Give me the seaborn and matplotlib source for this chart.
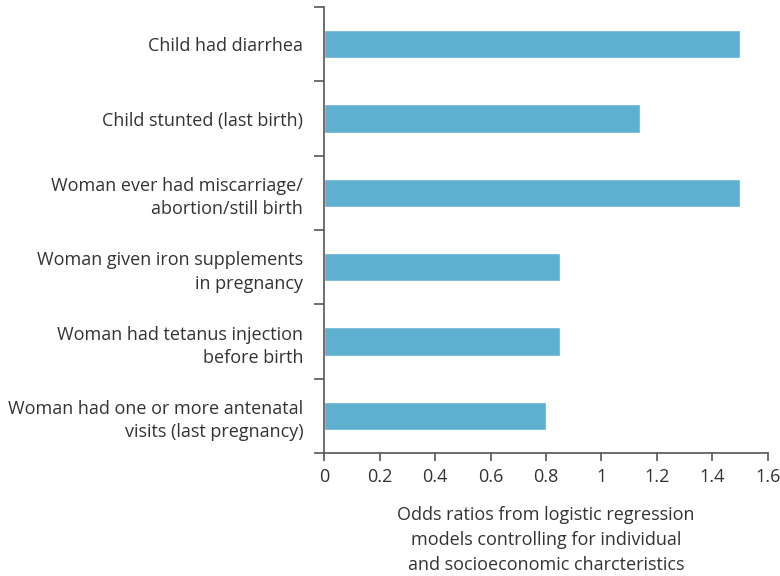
import numpy as np
import pandas as pd
import matplotlib
matplotlib.use("Agg")
import matplotlib.pyplot as plt
import seaborn as sns

# data
labels = [
    "Child had diarrhea",
    "Child stunted (last birth)",
    "Woman ever had miscarriage/\nabortion/still birth",
    "Woman given iron supplements\nin pregnancy",
    "Woman had tetanus injection\nbefore birth",
    "Woman had one or more antenatal\nvisits (last pregnancy)",
]
odds = [1.50, 1.14, 1.50, 0.85, 0.85, 0.80]
xticks = [0, 0.2, 0.4, 0.6, 0.8, 1, 1.2, 1.4, 1.6]
xticklabels = ["0", "0.2", "0.4", "0.6", "0.8", "1", "1.2", "1.4", "1.6"]

df = pd.DataFrame({"label": labels, "odds": odds})

sns.set_style("white")
plt.rcParams["font.family"] = ["Open Sans", "DejaVu Sans"]
text_col = "#333333"
fs = 13

fig = plt.figure(figsize=(7.8, 5.76), dpi=100)
ax = fig.add_axes([0.4154, 0.2135, 0.5692, 0.7743])

sns.barplot(data=df, x="odds", y="label", orient="h", color="#5fafd0",
            saturation=1, width=0.38, ax=ax)

ax.set_xlim(0, 1.6)
ax.set_ylim(5.5, -0.5)
ax.set_xticks(xticks)
ax.set_xticklabels(xticklabels, fontsize=fs, color=text_col)
ax.set_yticks(range(len(labels)))
ax.set_yticklabels(labels, fontsize=fs, color=text_col, linespacing=1.4)
ax.tick_params(axis="y", length=0, pad=15)
ax.set_yticks(np.arange(-0.5, len(labels), 1), minor=True)
ax.tick_params(axis="y", which="minor", length=7, width=1.2, color="#555555",
               direction="out", left=True)
ax.tick_params(axis="x", length=6, width=1.2, color="#555555",
               direction="out", bottom=True, pad=5)

for s in ["top", "right"]:
    ax.spines[s].set_visible(False)
for s in ["left", "bottom"]:
    ax.spines[s].set_color("#555555")
    ax.spines[s].set_linewidth(1.2)

ax.set_ylabel("")
ax.set_xlabel("Odds ratios from logistic regression\nmodels controlling for individual\nand socioeconomic charcteristics",
              fontsize=fs, color=text_col, labelpad=14, linespacing=1.5)

fig.savefig("out.png", dpi=100)
